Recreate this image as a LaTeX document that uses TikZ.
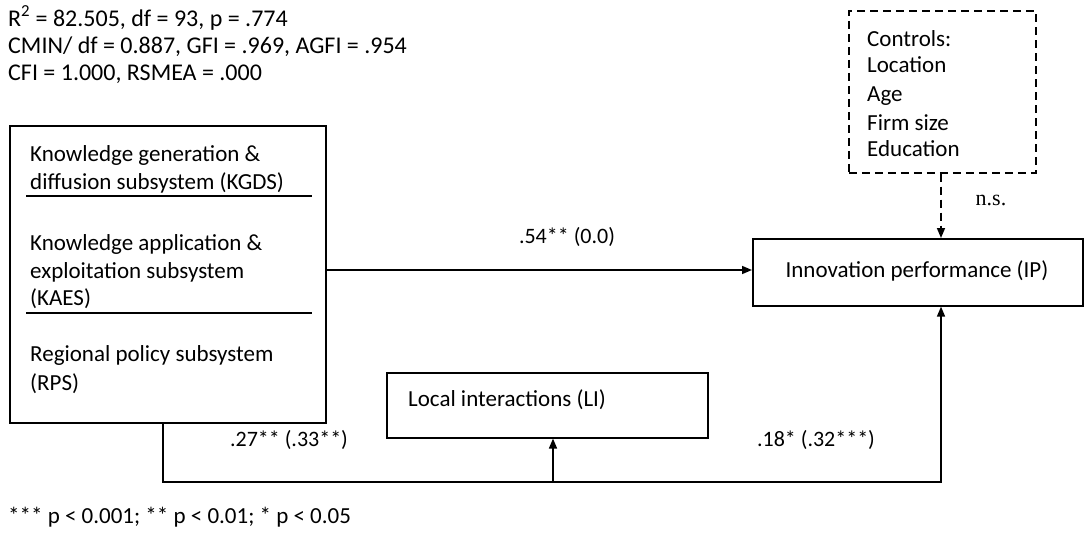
\documentclass[tikz,border=0pt]{standalone}
\usepackage{fontspec}
\setmainfont{Carlito}
\newfontfamily\nsfont{Liberation Serif}
\usetikzlibrary{arrows.meta}
\begin{document}
\begin{tikzpicture}[x=1pt,y=-1pt,
  box/.style={draw, line width=1.6pt, inner sep=0pt, anchor=north west},
  lbl/.style={font=\fontsize{23}{27}\selectfont, inner sep=0pt},
  txt/.style={lbl, anchor=base west},
  top/.style={txt, font=\fontsize{24}{27}\selectfont},
  num/.style={lbl, font=\fontsize{22}{27}\selectfont},
  arr/.style={line width=1.6pt, -{Triangle[length=10pt,width=8pt]}},
  dsh/.style={dash pattern=on 8pt off 5pt},
]
\useasboundingbox (0,0) rectangle (1092,536);
% fit statistics
\node[top] (s1) at (8,26) {R\textsuperscript{2} = 82.505, df = 93, p = .774};
\node[top] (s2) at (8,53) {CMIN/ df = 0.887, GFI = .969, AGFI = .954};
\node[top] (s3) at (8,80) {CFI = 1.000, RSMEA = .000};
% left system box
\node[box, minimum width=316pt, minimum height=297pt] (sys) at (9,125) {};
\draw[line width=1.2pt] (26,196) -- (312,196);
\draw[line width=1.2pt] (26,313) -- (312,313);
\node[txt] (k1) at (30,161) {Knowledge generation \&};
\node[txt] (k2) at (30,189) {diffusion subsystem (KGDS)};
\node[txt] (k3) at (30,250) {Knowledge application \&};
\node[txt] (k4) at (30,278) {exploitation subsystem};
\node[txt] (k5) at (30,305) {(KAES)};
\node[txt] (k6) at (30,361) {Regional policy subsystem};
\node[txt] (k7) at (30,390) {(RPS)};
% controls box
\node[box, dsh, minimum width=187pt, minimum height=162pt] (ctrl) at (848,10) {};
\node[txt] (c1t) at (867,46) {Controls:};
\node[txt] (c2t) at (867,72) {Location};
\node[txt] (c3t) at (867,101) {Age};
\node[txt] (c4t) at (867,130) {Firm size};
\node[txt] (c5t) at (867,156) {Education};
% IP box
\node[box, minimum width=330pt, minimum height=67pt] (ip) at (752,238) {};
\node[lbl] (ipt) at (917,271) {Innovation performance (IP)};
% LI box
\node[box, minimum width=321pt, minimum height=65pt] (li) at (386,372) {};
\node[txt] (lit) at (408,406) {Local interactions (LI)};
% connectors
\coordinate (b1) at (163,482);
\coordinate (b2) at (941,482);
\coordinate (b3) at (553,482);
\draw[arr] (sys.east |- 0,270) -- (ip.west |- 0,270);
\draw[arr] (sys.south -| b1) -- (b1) -- (b2) -- (b2 |- ip.south);
\draw[arr] (b3) -- (b3 |- li.south);
\draw[arr, dsh] (ctrl.south -| b2) -- (b2 |- ip.north);
% labels
\node[num] (l54) at (567,237) {.54** (0.0)};
\node[num] (l27) at (289,440) {.27** (.33**)};
\node[num] (l18) at (816,440) {.18* (.32***)};
\node[lbl, font=\nsfont\fontsize{22}{24}\selectfont] (lns) at (991,200) {n.s.};
\node[txt] (foot) at (8,523) {*** p < 0.001; ** p < 0.01; * p < 0.05};
\end{tikzpicture}
\end{document}
